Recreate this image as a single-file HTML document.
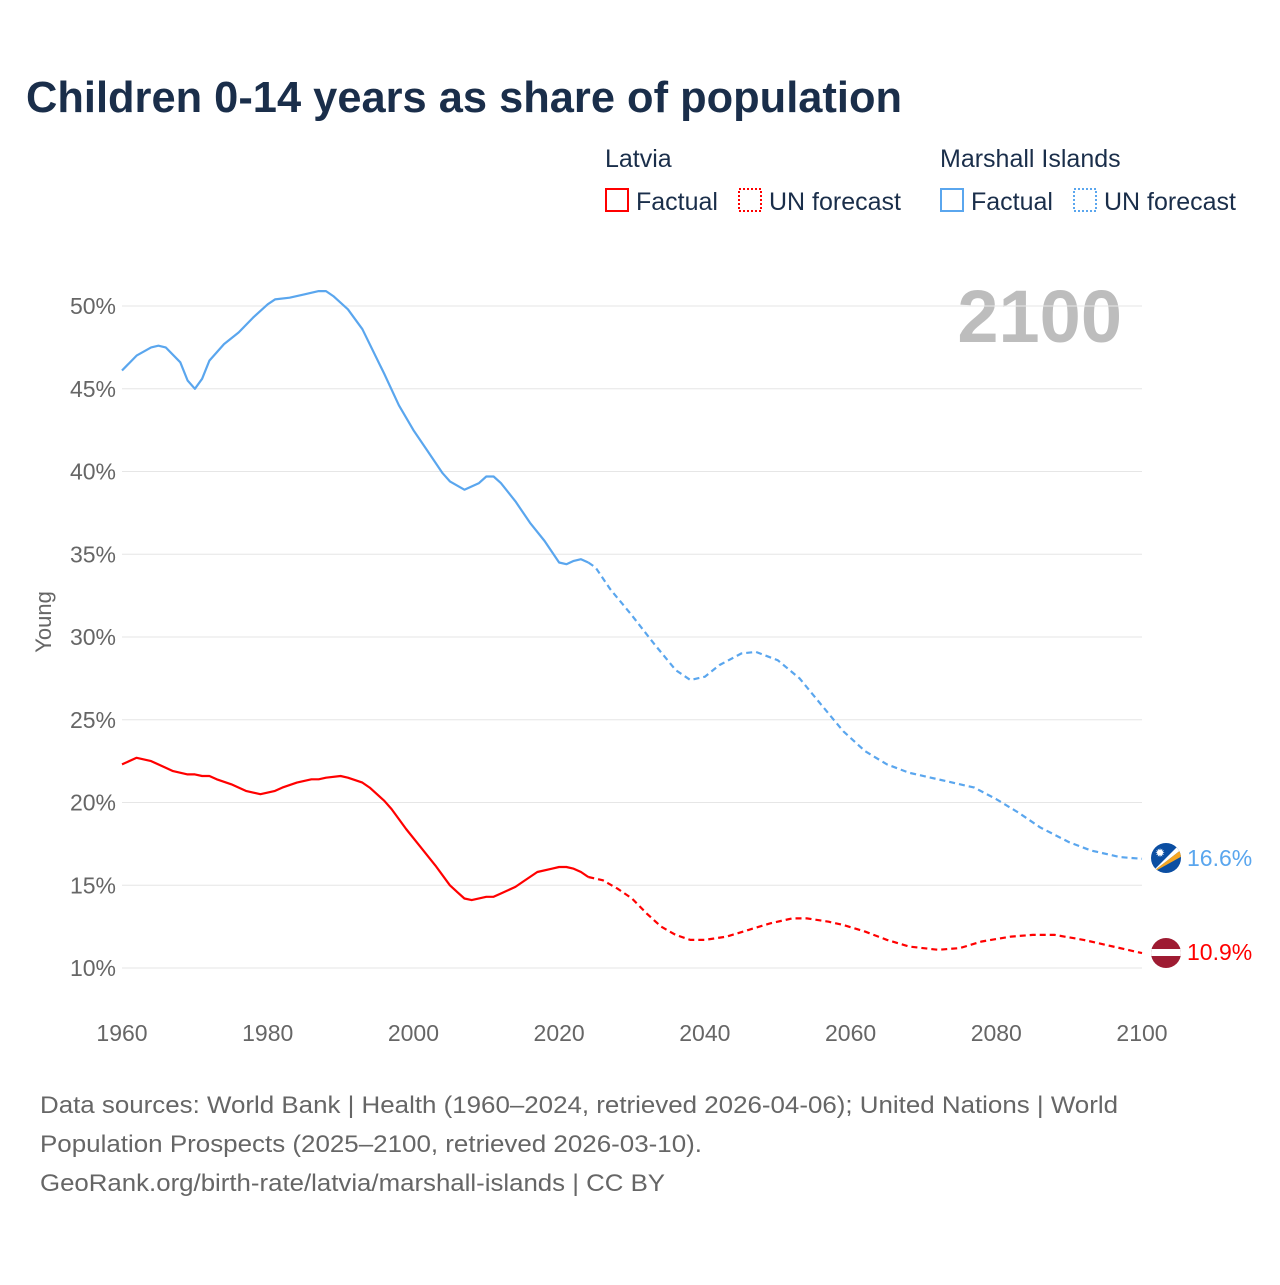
<!DOCTYPE html>
<html><head><meta charset="utf-8"><style>
body{margin:0;background:#fff;font-family:"Liberation Sans",sans-serif;}
svg text{font-family:"Liberation Sans",sans-serif;}
</style></head><body>
<svg id="chart" width="1280" height="1280" viewBox="0 0 1280 1280" xmlns="http://www.w3.org/2000/svg">
<rect width="1280" height="1280" fill="#fff"/>
<text x="26" y="112" font-size="44" font-weight="bold" fill="#1a2e4a" textLength="876" lengthAdjust="spacingAndGlyphs">Children 0-14 years as share of population</text>
<g font-size="25" fill="#1a2e4a">
<text x="605" y="167" fill="#1a2e4a">Latvia</text>
<rect x="606" y="189" width="22" height="22" fill="none" stroke="#f00" stroke-width="2"/>
<text x="636" y="210" fill="#1a2e4a">Factual</text>
<rect x="739" y="189" width="22" height="22" fill="none" stroke="#f00" stroke-width="2" stroke-dasharray="2,2"/>
<text x="769" y="210" fill="#1a2e4a">UN forecast</text>
<text x="940" y="167" fill="#1a2e4a">Marshall Islands</text>
<rect x="941" y="189" width="22" height="22" fill="none" stroke="#5aa6ee" stroke-width="2"/>
<text x="971" y="210" fill="#1a2e4a">Factual</text>
<rect x="1074" y="189" width="22" height="22" fill="none" stroke="#5aa6ee" stroke-width="2" stroke-dasharray="2,2"/>
<text x="1104" y="210" fill="#1a2e4a">UN forecast</text>
</g>
<text x="1122" y="342" font-size="74" font-weight="bold" fill="#bdbdbd" text-anchor="end">2100</text>
<text transform="translate(51,622) rotate(-90)" font-size="22" fill="#666" text-anchor="middle">Young</text>
<g id="grid"></g><g id="lines"></g>
<g>
<clipPath id="cm"><circle cx="1166" cy="858" r="15"/></clipPath>
<circle cx="1166" cy="858" r="15" fill="#0b4ea2"/>
<g clip-path="url(#cm)"><polygon points="1150,874 1186,838 1186,846" fill="#fff"/><polygon points="1150,874 1186,846 1186,854" fill="#f5a623"/></g>
<text x="1160" y="857" font-size="12" fill="#fff" text-anchor="middle">✹</text>
</g>
<g>
<clipPath id="cl"><circle cx="1166" cy="953" r="15"/></clipPath>
<g clip-path="url(#cl)"><rect x="1150" y="937" width="32" height="32" fill="#9e1b32"/><rect x="1150" y="949" width="32" height="7" fill="#fff"/></g>
</g>
<text x="1187" y="866" font-size="23" fill="#5aa6ee">16.6%</text>
<text x="1187" y="960" font-size="23" fill="#f00">10.9%</text>
<g font-size="24" fill="#666">
<text x="40" y="1113" textLength="1078" lengthAdjust="spacingAndGlyphs">Data sources: World Bank | Health (1960–2024, retrieved 2026-04-06); United Nations | World</text>
<text x="40" y="1152" textLength="662" lengthAdjust="spacingAndGlyphs">Population Prospects (2025–2100, retrieved 2026-03-10).</text>
<text x="40" y="1191" textLength="625" lengthAdjust="spacingAndGlyphs">GeoRank.org/birth-rate/latvia/marshall-islands | CC BY</text>
</g>
</svg>
<script>
const yTicks=[10,15,20,25,30,35,40,45,50];
const xTicks=[1960,1980,2000,2020,2040,2060,2080,2100];
const mhYears=[1960,1962,1964,1965,1966,1968,1969,1970,1971,1972,1974,1976,1978,1980,1981,1983,1985,1987,1988,1989,1991,1993,1996,1998,2000,2002,2004,2005,2007,2009,2010,2011,2012,2014,2016,2018,2020,2021,2022,2023,2024,2025,2027,2030,2033,2036,2038,2040,2042,2045,2047,2050,2053,2056,2059,2062,2065,2068,2072,2077,2080,2083,2086,2090,2093,2097,2100];
const mhValues=[46.1,47.0,47.5,47.6,47.5,46.6,45.5,45.0,45.6,46.7,47.7,48.4,49.3,50.1,50.4,50.5,50.7,50.9,50.9,50.6,49.8,48.6,45.9,44.0,42.5,41.2,39.9,39.4,38.9,39.3,39.7,39.7,39.3,38.2,36.9,35.8,34.5,34.4,34.6,34.7,34.5,34.2,32.9,31.3,29.6,28.0,27.4,27.6,28.3,29.0,29.1,28.6,27.5,25.9,24.3,23.1,22.3,21.8,21.4,20.9,20.2,19.4,18.5,17.6,17.1,16.7,16.6];
const lvYears=[1960,1962,1964,1966,1967,1969,1970,1971,1972,1973,1975,1977,1979,1981,1982,1984,1986,1987,1988,1990,1991,1993,1994,1996,1997,1999,2001,2003,2005,2006,2007,2008,2010,2011,2012,2014,2015,2017,2019,2020,2021,2022,2023,2024,2026,2028,2030,2032,2034,2036,2038,2040,2043,2046,2049,2052,2054,2057,2059,2062,2065,2068,2072,2075,2078,2082,2085,2088,2092,2096,2100];
const lvValues=[22.3,22.7,22.5,22.1,21.9,21.7,21.7,21.6,21.6,21.4,21.1,20.7,20.5,20.7,20.9,21.2,21.4,21.4,21.5,21.6,21.5,21.2,20.9,20.1,19.6,18.4,17.3,16.2,15.0,14.6,14.2,14.1,14.3,14.3,14.5,14.9,15.2,15.8,16.0,16.1,16.1,16.0,15.8,15.5,15.3,14.8,14.2,13.3,12.5,12.0,11.7,11.7,11.9,12.3,12.7,13.0,13.0,12.8,12.6,12.2,11.7,11.3,11.1,11.2,11.6,11.9,12.0,12.0,11.7,11.3,10.9];
const lastFactual=2024;
const NS="http://www.w3.org/2000/svg";
const xS=y=>122+(y-1960)*1020/140;
const yS=v=>968-(v-10)*662/40;
const grid=document.getElementById('grid'),lines=document.getElementById('lines');
function mk(tag,attrs,parent){const e=document.createElementNS(NS,tag);for(const k in attrs)e.setAttribute(k,attrs[k]);parent.appendChild(e);return e;}
yTicks.forEach(t=>{
 const l=mk('line',{x1:122,x2:1142,y1:yS(t),y2:yS(t),stroke:'#e6e6e6','stroke-width':1},grid);
 
 
 const tx=mk('text',{x:116,y:yS(t)+8,'font-size':23,fill:'#666','text-anchor':'end'},grid);
 
 
 tx.textContent=t+'%';
});
xTicks.forEach(t=>{
 const tx=mk('text',{x:xS(t),y:1041,'font-size':23,fill:'#666','text-anchor':'middle'},grid);
 
 
 tx.textContent=t;
});
function series(years,vals,color,name){
 const f=[],p=[];
 years.forEach((y,i)=>{const pt=xS(y).toFixed(1)+','+yS(vals[i]).toFixed(1);if(y<=lastFactual)f.push(pt);if(y>=lastFactual)p.push(pt);});
 const a=mk('polyline',{points:f.join(' '),fill:'none',stroke:color,'stroke-width':2.2,'stroke-linejoin':'round'},lines);
 
 
 const b=mk('polyline',{points:p.join(' '),fill:'none',stroke:color,'stroke-width':2.2,'stroke-dasharray':'6,4'},lines);
 
 
}
series(mhYears,mhValues,'#5aa6ee','marshall');
series(lvYears,lvValues,'#f00','latvia');
</script>
</body></html>
